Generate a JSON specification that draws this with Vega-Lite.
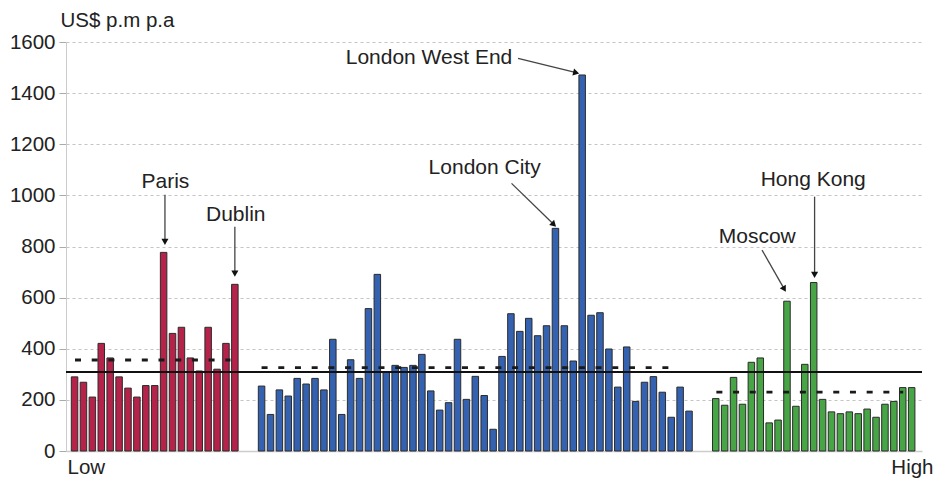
{
  "$schema": "https://vega.github.io/schema/vega-lite/v6.json",
  "width": 856,
  "height": 409,
  "autosize": {"type": "none"},
  "padding": {"left": 66, "top": 42, "right": 17, "bottom": 31},
  "background": "white",
  "config": {"view": {"stroke": null}, "font": "Liberation Sans"},
  "datasets": {
    "bars": [
      {"slot": 0, "value": 290, "group": "Group 1"},
      {"slot": 1, "value": 269, "group": "Group 1"},
      {"slot": 2, "value": 211, "group": "Group 1"},
      {"slot": 3, "value": 421, "group": "Group 1"},
      {"slot": 4, "value": 364, "group": "Group 1"},
      {"slot": 5, "value": 290, "group": "Group 1"},
      {"slot": 6, "value": 246, "group": "Group 1"},
      {"slot": 7, "value": 211, "group": "Group 1"},
      {"slot": 8, "value": 256, "group": "Group 1"},
      {"slot": 9, "value": 256, "group": "Group 1"},
      {"slot": 10, "value": 777, "group": "Group 1"},
      {"slot": 11, "value": 460, "group": "Group 1"},
      {"slot": 12, "value": 484, "group": "Group 1"},
      {"slot": 13, "value": 364, "group": "Group 1"},
      {"slot": 14, "value": 313, "group": "Group 1"},
      {"slot": 15, "value": 484, "group": "Group 1"},
      {"slot": 16, "value": 320, "group": "Group 1"},
      {"slot": 17, "value": 421, "group": "Group 1"},
      {"slot": 18, "value": 652, "group": "Group 1"},
      {"slot": 21, "value": 254, "group": "Group 2"},
      {"slot": 22, "value": 143, "group": "Group 2"},
      {"slot": 23, "value": 239, "group": "Group 2"},
      {"slot": 24, "value": 215, "group": "Group 2"},
      {"slot": 25, "value": 284, "group": "Group 2"},
      {"slot": 26, "value": 262, "group": "Group 2"},
      {"slot": 27, "value": 284, "group": "Group 2"},
      {"slot": 28, "value": 239, "group": "Group 2"},
      {"slot": 29, "value": 437, "group": "Group 2"},
      {"slot": 30, "value": 143, "group": "Group 2"},
      {"slot": 31, "value": 357, "group": "Group 2"},
      {"slot": 32, "value": 284, "group": "Group 2"},
      {"slot": 33, "value": 557, "group": "Group 2"},
      {"slot": 34, "value": 691, "group": "Group 2"},
      {"slot": 35, "value": 308, "group": "Group 2"},
      {"slot": 36, "value": 335, "group": "Group 2"},
      {"slot": 37, "value": 327, "group": "Group 2"},
      {"slot": 38, "value": 335, "group": "Group 2"},
      {"slot": 39, "value": 378, "group": "Group 2"},
      {"slot": 40, "value": 235, "group": "Group 2"},
      {"slot": 41, "value": 160, "group": "Group 2"},
      {"slot": 42, "value": 189, "group": "Group 2"},
      {"slot": 43, "value": 437, "group": "Group 2"},
      {"slot": 44, "value": 202, "group": "Group 2"},
      {"slot": 45, "value": 292, "group": "Group 2"},
      {"slot": 46, "value": 217, "group": "Group 2"},
      {"slot": 47, "value": 85, "group": "Group 2"},
      {"slot": 48, "value": 370, "group": "Group 2"},
      {"slot": 49, "value": 537, "group": "Group 2"},
      {"slot": 50, "value": 468, "group": "Group 2"},
      {"slot": 51, "value": 519, "group": "Group 2"},
      {"slot": 52, "value": 451, "group": "Group 2"},
      {"slot": 53, "value": 490, "group": "Group 2"},
      {"slot": 54, "value": 871, "group": "Group 2"},
      {"slot": 55, "value": 490, "group": "Group 2"},
      {"slot": 56, "value": 352, "group": "Group 2"},
      {"slot": 57, "value": 1471, "group": "Group 2"},
      {"slot": 58, "value": 531, "group": "Group 2"},
      {"slot": 59, "value": 541, "group": "Group 2"},
      {"slot": 60, "value": 399, "group": "Group 2"},
      {"slot": 61, "value": 250, "group": "Group 2"},
      {"slot": 62, "value": 407, "group": "Group 2"},
      {"slot": 63, "value": 194, "group": "Group 2"},
      {"slot": 64, "value": 269, "group": "Group 2"},
      {"slot": 65, "value": 291, "group": "Group 2"},
      {"slot": 66, "value": 230, "group": "Group 2"},
      {"slot": 67, "value": 132, "group": "Group 2"},
      {"slot": 68, "value": 250, "group": "Group 2"},
      {"slot": 69, "value": 156, "group": "Group 2"},
      {"slot": 72, "value": 205, "group": "Group 3"},
      {"slot": 73, "value": 179, "group": "Group 3"},
      {"slot": 74, "value": 288, "group": "Group 3"},
      {"slot": 75, "value": 183, "group": "Group 3"},
      {"slot": 76, "value": 347, "group": "Group 3"},
      {"slot": 77, "value": 364, "group": "Group 3"},
      {"slot": 78, "value": 110, "group": "Group 3"},
      {"slot": 79, "value": 121, "group": "Group 3"},
      {"slot": 80, "value": 586, "group": "Group 3"},
      {"slot": 81, "value": 175, "group": "Group 3"},
      {"slot": 82, "value": 339, "group": "Group 3"},
      {"slot": 83, "value": 659, "group": "Group 3"},
      {"slot": 84, "value": 202, "group": "Group 3"},
      {"slot": 85, "value": 153, "group": "Group 3"},
      {"slot": 86, "value": 146, "group": "Group 3"},
      {"slot": 87, "value": 153, "group": "Group 3"},
      {"slot": 88, "value": 146, "group": "Group 3"},
      {"slot": 89, "value": 164, "group": "Group 3"},
      {"slot": 90, "value": 132, "group": "Group 3"},
      {"slot": 91, "value": 183, "group": "Group 3"},
      {"slot": 92, "value": 194, "group": "Group 3"},
      {"slot": 93, "value": 248, "group": "Group 3"},
      {"slot": 94, "value": 248, "group": "Group 3"}
    ],
    "refs": [
      {"group": "Group 1", "start": 0.05, "end": 17.5, "value": 356},
      {"group": "Group 2", "start": 21.0, "end": 67.6, "value": 326},
      {"group": "Group 3", "start": 72.07, "end": 93.05, "value": 230}
    ],
    "overall": [{"value": 309}],
    "notes": [
      {"label": "Paris", "tx": 10.2, "ty": 1054, "sx": 10.15, "sy": 1002, "hx": 10.15, "hy": 818},
      {"label": "Dublin", "tx": 18.1, "ty": 923, "sx": 18.0, "sy": 877, "hx": 18.0, "hy": 694},
      {"label": "London West End", "tx": 39.8, "ty": 1536, "sx": 49.8, "sy": 1536, "hx": 56.33, "hy": 1480},
      {"label": "London City", "tx": 46.05, "ty": 1106, "sx": 49.07, "sy": 1047, "hx": 53.82, "hy": 886},
      {"label": "Moscow", "tx": 76.66, "ty": 838, "sx": 77.2, "sy": 786, "hx": 79.7, "hy": 633},
      {"label": "Hong Kong", "tx": 82.95, "ty": 1060, "sx": 83.1, "sy": 995, "hx": 83.1, "hy": 689}
    ]
  },
  "layer": [
    {
      "data": {"name": "bars"},
      "mark": {"type": "bar", "size": 6.5, "stroke": "#2b2b2b", "strokeWidth": 1},
      "encoding": {
        "x": {
          "field": "slot", "type": "quantitative",
          "scale": {"domain": [-0.4, 94.6], "nice": false, "zero": false},
          "axis": {
            "values": [-0.4, 94.6],
            "labelExpr": "datum.value < 50 ? 'Low' : 'High'",
            "title": null, "grid": false, "ticks": false, "tickSize": 0,
            "domainColor": "#cccccc", "domainWidth": 1.5,
            "labelFontSize": 20.5, "labelColor": "#222222", "labelPadding": 6,
            "labelFlush": false,
            "labelAlign": {"condition": {"test": "datum.value < 50", "value": "left"}, "value": "right"},
            "labelOffset": {"condition": {"test": "datum.value < 50", "value": -4}, "value": 16}
          }
        },
        "y": {
          "field": "value", "type": "quantitative",
          "scale": {"domain": [0, 1600], "nice": false},
          "axis": {
            "values": [0, 200, 400, 600, 800, 1000, 1200, 1400, 1600],
            "format": "d",
            "title": "US$ p.m p.a", "titleAngle": 0, "titleAlign": "left",
            "titleBaseline": "alphabetic", "titleX": -6, "titleY": -16,
            "titleFontSize": 20.5, "titleFontWeight": "normal", "titleColor": "#222222",
            "labelFontSize": 20.5, "labelColor": "#222222", "labelPadding": 4,
            "tickColor": "#aaaaaa", "tickSize": 7,
            "domainColor": "#cccccc",
            "grid": true, "gridDash": [3, 3], "gridColor": "#c4c4c4"
          }
        },
        "color": {
          "field": "group", "type": "nominal",
          "scale": {"domain": ["Group 1", "Group 2", "Group 3"], "range": ["#b5224a", "#3462b0", "#48a546"]},
          "legend": null
        }
      }
    },
    {
      "data": {"name": "refs"},
      "mark": {"type": "rule", "color": "#1a1a1a", "strokeWidth": 2.8, "strokeDash": [6, 10.7]},
      "encoding": {
        "x": {"field": "start", "type": "quantitative"},
        "x2": {"field": "end"},
        "y": {"field": "value", "type": "quantitative"}
      }
    },
    {
      "data": {"name": "overall"},
      "mark": {"type": "rule", "color": "#111111", "strokeWidth": 2.2},
      "encoding": {
        "y": {"field": "value", "type": "quantitative"}
      }
    },
    {
      "data": {"name": "notes"},
      "mark": {"type": "rule", "color": "#444444", "strokeWidth": 1.3},
      "encoding": {
        "x": {"field": "sx", "type": "quantitative"},
        "x2": {"field": "hx"},
        "y": {"field": "sy", "type": "quantitative"},
        "y2": {"field": "hy"}
      }
    },
    {
      "data": {"name": "notes"},
      "transform": [
        {"calculate": "atan2((datum.hx - datum.sx) * 9.01, (datum.hy - datum.sy) * 0.2556) * 180 / PI", "as": "heading"}
      ],
      "mark": {"type": "point", "shape": "triangle-up", "filled": true, "color": "#111111", "size": 50, "opacity": 1},
      "encoding": {
        "x": {"field": "hx", "type": "quantitative"},
        "y": {"field": "hy", "type": "quantitative"},
        "angle": {"field": "heading", "type": "quantitative", "scale": null}
      }
    },
    {
      "data": {"name": "notes"},
      "mark": {"type": "text", "fontSize": 21, "color": "#222222", "align": "center", "baseline": "middle"},
      "encoding": {
        "x": {"field": "tx", "type": "quantitative"},
        "y": {"field": "ty", "type": "quantitative"},
        "text": {"field": "label"}
      }
    }
  ]
}
